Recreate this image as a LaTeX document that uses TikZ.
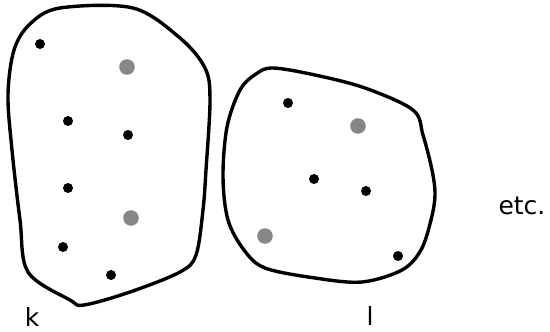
\documentclass[tikz,border=0pt]{standalone}
\usepackage{fontspec}
\setmainfont{DejaVu Sans}
\usetikzlibrary{positioning}

\begin{document}
\begin{tikzpicture}[x=1pt, y=-1pt,
    blob/.style={line width=3.4pt, line join=round},
    dotb/.style={fill=black},
    dotg/.style={fill=black!47},
    lbl/.style={font=\fontsize{25}{30}\selectfont, inner sep=0pt}]
\useasboundingbox (0,0) rectangle (550,332);

% Set k
\draw[blob] plot[smooth cycle, tension=0.55] coordinates {
    (60,8) (133,8) (180,38) (205,68) (210,100) (206,170) (203,210)
    (196,255) (180,272) (130,292) (84,305) (70,300) (28,272)
    (20,220) (12,150) (8,95) (14,50) (30,24)};
\foreach \x/\y in {40/44, 68/121, 128/135, 68/188, 63/247, 111/275}
    \fill[dotb] (\x,\y) circle (5);
\foreach \x/\y in {127/67, 131/218}
    \fill[dotg] (\x,\y) circle (7.8);

% Set l
\draw[blob] plot[smooth cycle, tension=0.55] coordinates {
    (273,68) (315,75) (365,88) (413,110) (423,135) (432,170)
    (435,195) (431,220) (421,250) (402,270) (362,282) (315,278)
    (265,268) (244,250) (228,220) (223,177) (227,127) (240,90) (256,74)};
\foreach \x/\y in {288/103, 314/179, 366/191, 398/256}
    \fill[dotb] (\x,\y) circle (5);
\foreach \x/\y in {358/126, 265/236}
    \fill[dotg] (\x,\y) circle (7.8);

% Labels
\node[lbl, anchor=base] (klabel) at (32,326) {k};
\node[lbl, anchor=base] (llabel) at (370,325) {l};
\node[lbl, anchor=base] (etc) at (522,214) {etc.};
\end{tikzpicture}
\end{document}
